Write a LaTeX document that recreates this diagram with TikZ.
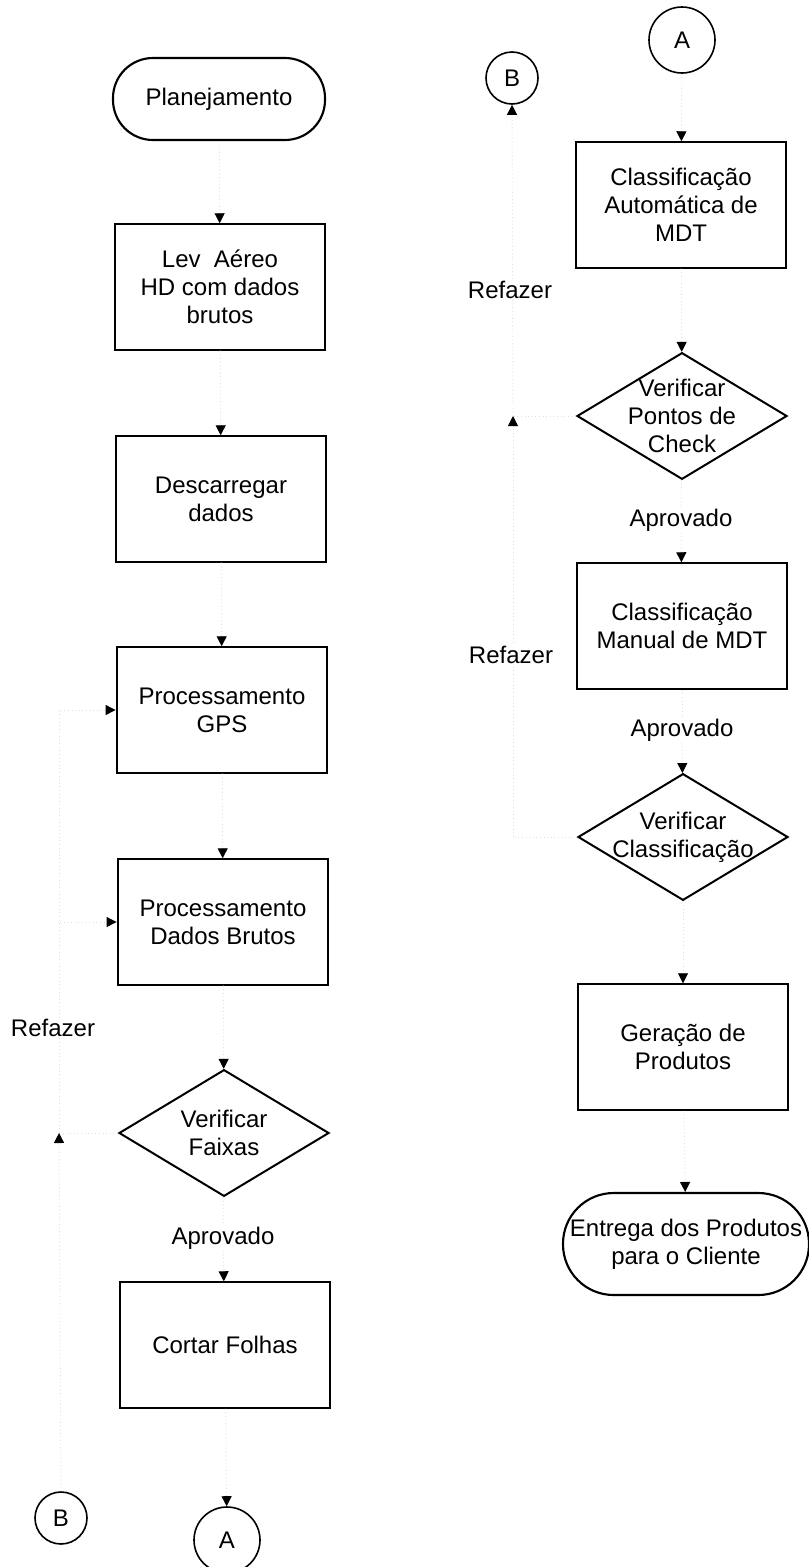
\documentclass[tikz,border=0pt]{standalone}
\usepackage{fontspec}
\setmainfont{Liberation Sans}
\usetikzlibrary{arrows.meta,shapes.geometric}

\begin{document}
\begin{tikzpicture}[x=0.75pt,y=-0.75pt,
  every node/.style={font=\fontsize{18}{21}\selectfont, text=black},
  stepbox/.style={draw, line width=1.6pt, minimum width=158pt, minimum height=94pt,
                  align=center, inner sep=0pt},
  terminal/.style={draw, line width=1.6pt, rounded corners=#1, align=center, inner sep=0pt},
  decision/.style={draw, diamond, line width=1.5pt, minimum width=157.5pt,
                   minimum height=95pt, inner sep=0pt},
  bigcon/.style={draw, circle, line width=1.2pt, minimum size=49.5pt, inner sep=0pt},
  smallcon/.style={draw, circle, line width=1.2pt, minimum size=39pt, inner sep=0pt},
  conn/.style={draw=gray!25, dotted, line width=0.7pt},
  flow/.style={conn, -{Triangle[length=7.5pt,width=7.5pt,color=black,fill=black]}},
  tag/.style={fill=white, inner sep=1pt}
]
\useasboundingbox (0,0) rectangle (809,1567);

% ---- left column ----
\node[terminal=30pt, minimum width=159pt, minimum height=61.5pt] (plan) at (219,99) {Planejamento};
\node[stepbox] (lev)  at (220,287) {Lev\ \ Aéreo\\HD com dados\\brutos};
\node[stepbox] (desc) at (221,499) {Descarregar\\dados};
\node[stepbox] (gps)  at (222,710) {Processamento\\GPS};
\node[stepbox] (brut) at (223,922) {Processamento\\Dados Brutos};
\node[decision] (vf) at (224,1133) {};
\node[align=center] (vftext) at (224,1133) {Verificar\\Faixas};
\node[tag] (apr1) at (223,1238) {Aprovado};
\node[stepbox] (cort) at (225,1345) {Cortar Folhas};
\node[bigcon] (Abot) at (227,1540) {A};
\node[smallcon] (Bbot) at (61,1518) {B};
\coordinate (jl) at (59,1133);
\node[tag] (ref1) at (53,1028) {Refazer};

\draw[flow] (plan) -- (lev);
\draw[flow] (lev) -- (desc);
\draw[flow] (desc) -- (gps);
\draw[flow] (gps) -- (brut);
\draw[flow] (brut) -- (vf);
\draw[conn] (vf) -- (apr1);
\draw[flow] (apr1) -- (cort);
\draw[flow] (cort) -- (Abot);
\draw[conn] (vf.west) -- (jl);
\draw[flow] (Bbot.north) -- (jl);
\draw[flow] (jl) |- (brut.west);
\draw[flow] (jl) |- (gps.west);

% ---- right column ----
\node[bigcon] (Atop) at (682,40) {A};
\node[smallcon] (Btop) at (512,78) {B};
\node[stepbox] (auto) at (681,205) {Classificação\\Automática de\\MDT};
\node[decision] (vpc) at (682,416) {};
\node[align=center] (vpctext) at (682,416) {Verificar\\Pontos de\\Check};
\node[tag] (apr2) at (681,520) {Aprovado};
\node[stepbox] (man) at (682,626) {Classificação\\Manual de MDT};
\node[tag] (apr3) at (682,730) {Aprovado};
\node[decision] (vcl) at (683,837) {};
\node[align=center] (vcltext) at (683,837) {Verificar\\Classificação};
\node[stepbox] (ger) at (683,1047) {Geração de\\Produtos};
\node[terminal=38pt, minimum width=184.5pt, minimum height=76.5pt] (ent) at (686,1244)
  {Entrega dos Produtos\\para o Cliente};
\coordinate (jr1) at (513,416);
\coordinate (jr2) at (513,837);
\node[tag] (ref2) at (510,290) {Refazer};
\node[tag] (ref3) at (511,655) {Refazer};

\draw[flow] (Atop) -- (auto);
\draw[flow] (auto) -- (vpc);
\draw[conn] (vpc) -- (apr2);
\draw[flow] (apr2) -- (man);
\draw[conn] (man) -- (apr3);
\draw[flow] (apr3) -- (vcl);
\draw[flow] (vcl) -- (ger);
\draw[flow] (ger) -- (ent);
\draw[conn] (vpc.west) -- (jr1);
\draw[conn] (vcl.west) -- (jr2);
\draw[flow] (jr2) -- (jr1);
\draw[flow] (jr1) -- (Btop.south);

% labels sit over the return lines
\node[tag] at (ref1) {Refazer};
\node[tag] at (ref2) {Refazer};
\node[tag] at (ref3) {Refazer};
\end{tikzpicture}
\end{document}
